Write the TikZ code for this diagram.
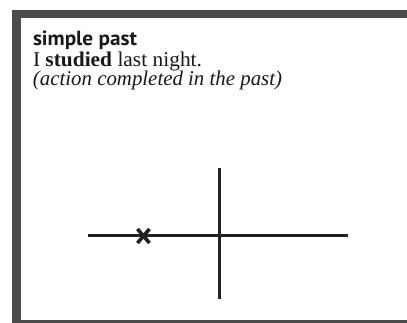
\documentclass[tikz,border=0pt]{standalone}
\usepackage{graphicx}
\usepackage{fontspec}
\setmainfont{Liberation Serif}
\newfontfamily\headfont{PT Sans}
\definecolor{framegray}{HTML}{4B4B4B}
\definecolor{inkline}{HTML}{222222}
\tikzset{
  framebar/.style={fill=framegray, draw=none},
  txt/.style={anchor=base west, inner sep=0pt, outer sep=0pt, text=black!90},
  axis/.style={draw=inkline, line width=3pt},
  xstroke/.style={draw=inkline, line width=3.6pt},
}
\begin{document}
\begin{tikzpicture}[x=1pt,y=-1pt]
\useasboundingbox[fill=white] (0,0) rectangle (407,323);
% frame
\fill[framebar] (12,10) rectangle (407,18);
\fill[framebar] (12,10) rectangle (21,323);
\fill[framebar] (12,320) rectangle (407,323);
% texts
\node[txt, font=\headfont\bfseries\fontsize{20.5}{22}\selectfont] (title) at (33,46)
  {\resizebox{104pt}{\height}{simple past}};
\node[txt, font=\fontsize{21}{23}\selectfont] (sentence) at (33,66.5)
  {\resizebox{169pt}{\height}{I \textbf{studied} last night.}};
\node[txt, font=\itshape\fontsize{21}{23}\selectfont] (note) at (33,86)
  {\resizebox{249pt}{\height}{(action completed in the past)}};
% timeline
\coordinate (tl) at (88,236);
\coordinate (tr) at (348,236);
\coordinate (vt) at (219.5,168);
\coordinate (vb) at (219.5,299);
\draw[axis] (tl) -- (tr);
\draw[axis] (vt) -- (vb);
% x mark
\coordinate (xm) at (143.5,236);
\draw[xstroke] ([shift={(-6,-7)}]xm) -- ([shift={(6,7)}]xm);
\draw[xstroke] ([shift={(6,-7)}]xm) -- ([shift={(-6,7)}]xm);
\end{tikzpicture}
\end{document}
